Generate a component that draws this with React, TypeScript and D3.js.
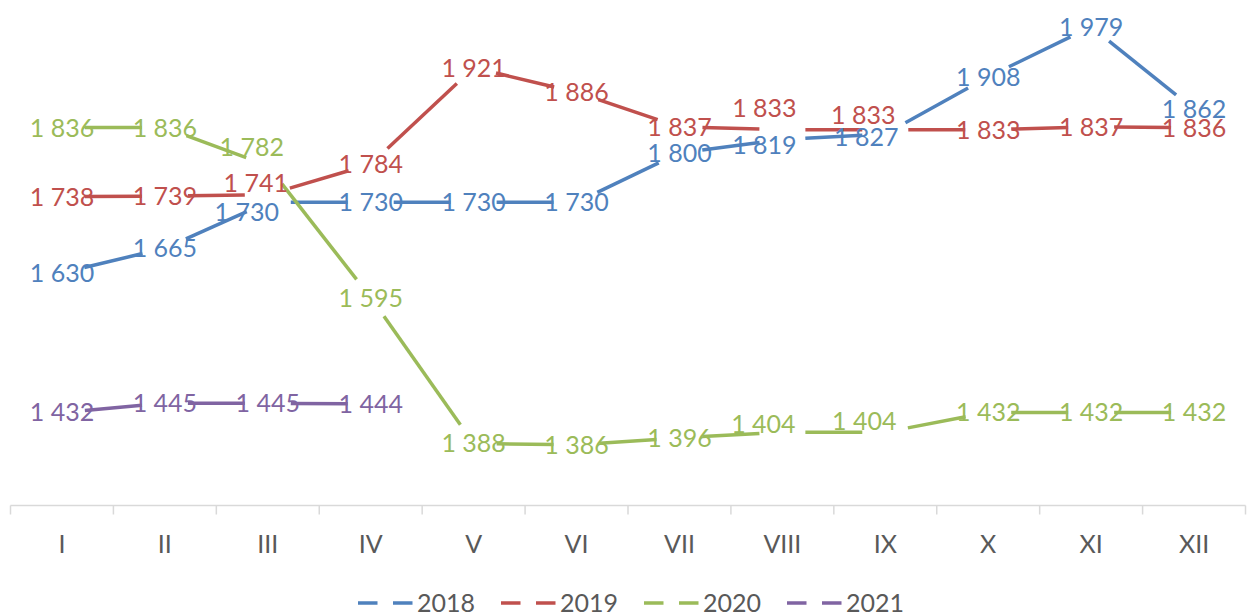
import React from "react";
import * as d3 from "d3";

const categories = ["I", "II", "III", "IV", "V", "VI", "VII", "VIII", "IX", "X", "XI", "XII"];
const years = ["2018", "2019", "2020", "2021"];
const values2018 = [1630, 1665, 1730, 1730, 1730, 1730, 1800, 1819, 1827, 1908, 1979, 1862];
const values2019 = [1738, 1739, 1741, 1784, 1921, 1886, 1837, 1833, 1833, 1833, 1837, 1836];
const values2020 = [1836, 1836, 1782, 1595, 1388, 1386, 1396, 1404, 1404, 1432, 1432, 1432];
const values2021 = [1432, 1445, 1445, 1444];
const colors = ["#4F81BD", "#C0504D", "#9BBB59", "#8064A2"];

// manual label nudges (pixels) as in the reference: [series, index, dx, dy]
const labelNudges: [number, number, number, number][] = [
  [0, 2, -21, 10], [0, 7, -18, 5], [0, 8, -19, 3],
  [1, 2, -12, -12], [1, 7, -18, -22], [1, 8, -22, -15],
  [2, 2, -16, -19], [2, 7, -19, -8], [2, 8, -21, -11],
];

const W = 1251, H = 613;
const FONT = "Lato, 'Open Sans', sans-serif";
const TRIM = 23;

function fmt(v: number) {
  return d3.format(",")(v).replace(/,/g, " ");
}

export default function App() {
  const series = [values2018, values2019, values2020, values2021];
  const x = d3.scaleBand<string>().domain(categories).range([10.5, 1245.5]).padding(0);
  const y = d3.scaleLinear().domain([1300, 2000]).range([505.5, 12]);
  const cx = (i: number) => (x(categories[i]) as number) + x.bandwidth() / 2;
  const axisY = y(1300);

  const boundaries = categories.map((c) => x(c) as number).concat([1245.5]);

  return (
    <svg width={W} height={H} style={{ position: "absolute", left: 0, top: 0, background: "#fff" }}>
      <rect width={W} height={H} fill="#fff" />
      {/* axis */}
      <line x1={10.5} x2={1245.5} y1={axisY} y2={axisY} stroke="#D9D9D9" strokeWidth={1.5} />
      {boundaries.map((bx, i) => (
        <line key={i} x1={bx} x2={bx} y1={axisY} y2={axisY + 9} stroke="#D9D9D9" strokeWidth={1.5} />
      ))}
      {categories.map((c, i) => (
        <text key={c} x={cx(i)} y={553} textAnchor="middle" fontFamily={FONT} fontSize={25} fill="#595959">
          {c}
        </text>
      ))}
      {/* lines */}
      {series.map((vals, s) => (
        <g key={"l" + s}>
          {vals.slice(0, -1).map((v, i) => {
            const x1 = cx(i), y1 = y(v), x2 = cx(i + 1), y2 = y(vals[i + 1]);
            const dx = x2 - x1, dy = y2 - y1;
            const len = Math.hypot(dx, dy);
            const ux = dx / len, uy = dy / len;
            return (
              <line
                key={i}
                x1={x1 + ux * TRIM}
                y1={y1 + uy * TRIM}
                x2={x2 - ux * TRIM}
                y2={y2 - uy * TRIM}
                stroke={colors[s]}
                strokeWidth={3.5}
              />
            );
          })}
        </g>
      ))}
      {/* labels */}
      {series.map((vals, s) => (
        <g key={"t" + s}>
          {vals.map((v, i) => {
            const n = labelNudges.find((d) => d[0] === s && d[1] === i);
            const ndx = n ? n[2] : 0, ndy = n ? n[3] : 0;
            return (
              <text
                key={i}
                x={cx(i) + ndx}
                y={y(v) + ndy + 9}
                textAnchor="middle"
                fontFamily={FONT}
                fontSize={25}
                fill={colors[s]}
              >
                {fmt(v)}
              </text>
            );
          })}
        </g>
      ))}
      {/* legend */}
      {years.map((yr, i) => {
        const lx = 358 + 143 * i;
        return (
          <g key={yr}>
            <line x1={lx} x2={lx + 55} y1={603} y2={603} stroke={colors[i]} strokeWidth={3.5} strokeDasharray="19.5 15.5" />
            <text x={lx + 59} y={612} fontFamily={FONT} fontSize={25} fill="#595959">
              {yr}
            </text>
          </g>
        );
      })}
    </svg>
  );
}
